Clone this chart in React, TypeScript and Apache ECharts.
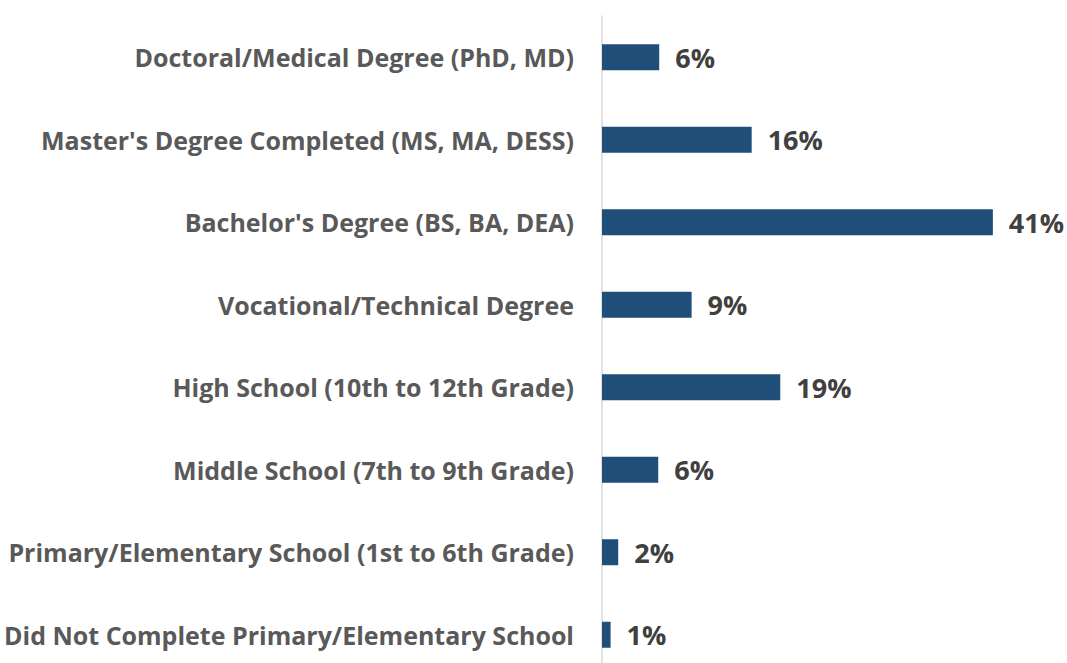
import React, { useEffect, useRef } from "react";
import * as echarts from "echarts";

const categories = [
  "Doctoral/Medical Degree (PhD, MD)",
  "Master's Degree Completed (MS, MA, DESS)",
  "Bachelor's Degree (BS, BA, DEA)",
  "Vocational/Technical Degree",
  "High School (10th to 12th Grade)",
  "Middle School (7th to 9th Grade)",
  "Primary/Elementary School (1st to 6th Grade)",
  "Did Not Complete Primary/Elementary School",
];
const values = [6.0, 15.7, 41.0, 9.4, 18.7, 5.9, 1.7, 0.9];
const shownLabels = ["6%", "16%", "41%", "9%", "19%", "6%", "2%", "1%"];

export default function App() {
  const ref = useRef<HTMLDivElement>(null);
  useEffect(() => {
    if (!ref.current) return;
    const chart = echarts.init(ref.current, null, { renderer: "svg" });
    chart.setOption({
      animation: false,
      grid: { left: 602, top: 16, width: 429, height: 660 },
      xAxis: {
        type: "value",
        min: 0,
        max: 45,
        show: false,
        splitLine: { show: false },
      },
      yAxis: {
        type: "category",
        inverse: true,
        data: categories,
        axisLine: { show: true, lineStyle: { color: "#d9d9d9", width: 1.5 } },
        axisTick: { show: false },
        axisLabel: {
          margin: 28,
          fontFamily: "Open Sans",
          fontWeight: "bold",
          fontSize: 25,
          color: "#595959",
        },
      },
      series: [
        {
          type: "bar",
          data: values,
          barWidth: 26,
          itemStyle: { color: "#1f4e79" },
          label: {
            show: true,
            position: "right",
            distance: 16,
            fontFamily: "Open Sans",
            fontWeight: "bold",
            fontSize: 27,
            color: "#404040",
            formatter: (p: any) => shownLabels[p.dataIndex],
          },
        },
      ],
    });
    return () => chart.dispose();
  }, []);
  return (
    <div
      style={{ position: "absolute", left: 0, top: 0, width: 1067, height: 663, overflow: "hidden" }}
    >
      <div ref={ref} style={{ width: 1067, height: 700 }} />
    </div>
  );
}
